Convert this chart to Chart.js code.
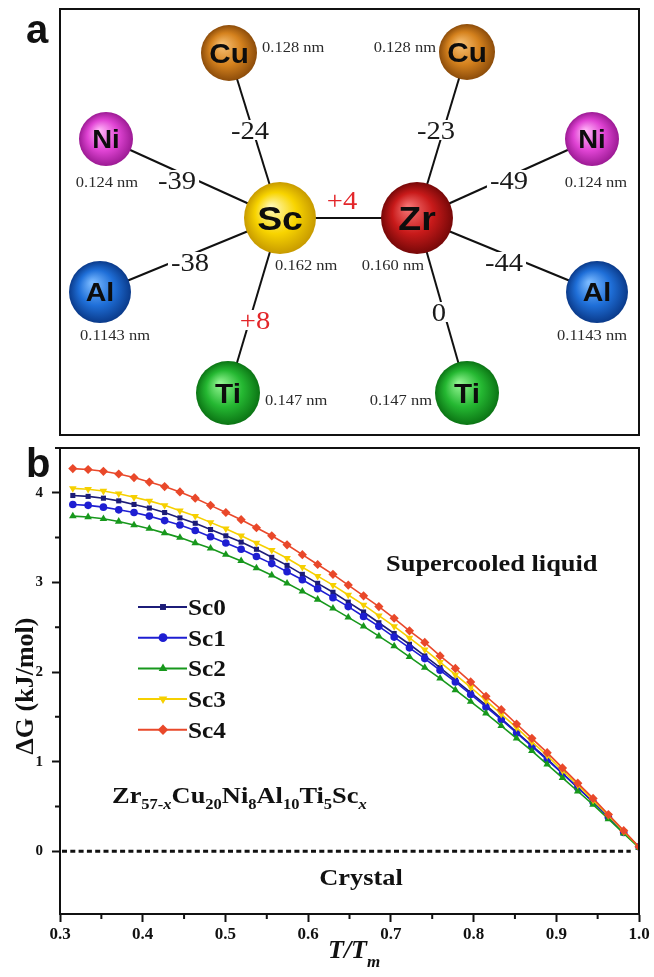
<!DOCTYPE html>
<html>
<head>
<meta charset="utf-8">
<title>Zr-Cu-Ni-Al-Ti-Sc</title>
<script src="https://cdn.jsdelivr.net/npm/chart.js@4.4.1/dist/chart.umd.min.js"></script>
<style>
html,body{margin:0;padding:0;background:#fff;}
body{width:654px;height:977px;position:relative;overflow:hidden;}
#boxA{position:absolute;left:0;top:0;width:654px;height:440px;}
#boxB{position:absolute;left:0;top:440px;width:654px;height:537px;}
</style>
</head>
<body>
<div id="boxA"><canvas id="atomChart"></canvas></div>
<div id="boxB"><canvas id="dgChart"></canvas></div>
<script>
// ---------- panel a : atoms (layout units inside the frame) ----------
const atomNames = ["Sc","Zr","Cu","Cu","Ni","Ni","Al","Al","Ti","Ti"];
const atomX = [220,357,169,407,46,532,40,537,168,407];
const atomY = [209,209,44,43,130,130,283,283,384,384];
const atomRadius = ["0.162 nm","0.160 nm","0.128 nm","0.128 nm","0.124 nm","0.124 nm","0.1143 nm","0.1143 nm","0.147 nm","0.147 nm"];
const bondFrom = [0,0,0,0,0,1,1,1,1];
const bondTo   = [1,2,4,6,8,3,5,7,9];
const bondEnergy = ["+4","-24","-39","-38","+8","-23","-49","-44","0"];

// ---------- panel b : driving force curves ----------
const tTm = [0.3155,0.334,0.3525,0.371,0.3895,0.408,0.4265,0.445,0.4635,0.482,
             0.5005,0.519,0.5375,0.556,0.5745,0.593,0.6115,0.63,0.6485,0.667,
             0.6855,0.704,0.7225,0.741,0.7595,0.778,0.7965,0.815,0.8335,0.852,
             0.8705,0.889,0.9075,0.926,0.9445,0.963,0.9815,1.0];
const dgSc0 = [3.97,3.96,3.94,3.91,3.87,3.83,3.78,3.72,3.66,3.59,3.52,3.45,3.37,3.28,3.19,3.09,2.99,2.89,2.78,2.67,
               2.55,2.43,2.31,2.18,2.05,1.91,1.77,1.63,1.48,1.33,1.18,1.03,0.87,0.71,0.55,0.38,0.21,0.05];
const dgSc1 = [3.87,3.86,3.84,3.81,3.78,3.74,3.69,3.64,3.58,3.51,3.44,3.37,3.29,3.21,3.12,3.03,2.93,2.83,2.73,2.62,
               2.51,2.39,2.27,2.15,2.02,1.89,1.75,1.61,1.47,1.32,1.17,1.02,0.87,0.71,0.55,0.38,0.21,0.05];
const dgSc2 = [3.74,3.73,3.71,3.68,3.64,3.60,3.55,3.50,3.44,3.38,3.31,3.24,3.16,3.08,2.99,2.90,2.81,2.71,2.61,2.51,
               2.40,2.29,2.17,2.05,1.93,1.80,1.67,1.54,1.40,1.26,1.12,0.97,0.82,0.67,0.52,0.36,0.20,0.04];
const dgSc3 = [4.05,4.04,4.02,3.99,3.95,3.91,3.86,3.80,3.74,3.67,3.60,3.52,3.44,3.36,3.27,3.17,3.07,2.97,2.86,2.75,
               2.63,2.51,2.38,2.25,2.11,1.97,1.83,1.68,1.53,1.38,1.22,1.07,0.90,0.74,0.57,0.40,0.22,0.05];
const dgSc4 = [4.27,4.26,4.24,4.21,4.17,4.12,4.07,4.01,3.94,3.86,3.78,3.70,3.61,3.52,3.42,3.31,3.20,3.09,2.97,2.85,
               2.73,2.60,2.46,2.33,2.18,2.04,1.89,1.73,1.58,1.42,1.26,1.10,0.93,0.76,0.59,0.41,0.23,0.05];
const seriesNames = ["Sc0","Sc1","Sc2","Sc3","Sc4"];
const xTicks = [0.3,0.4,0.5,0.6,0.7,0.8,0.9,1.0];
const yTicks = [0,1,2,3,4];

// ---------- styles ----------
const SERIF = "'Liberation Serif', 'Times New Roman', serif";
const SANS = "'Liberation Sans', Arial, sans-serif";
const STRETCH = 1.1;

const atomLook = {
  Sc:{r:36, c:["#fff7b0","#f8d400","#c79a00"], size:34},
  Zr:{r:36, c:["#f47070","#c81a1a","#760808"], size:34},
  Cu:{r:28, c:["#f5bd70","#d5821e","#8c4c0a"], size:27},
  Ni:{r:27, c:["#ffb0f6","#e044d4","#9c1a94"], size:25},
  Al:{r:31, c:["#78b8ff","#1f6fd8","#0a3a8a"], size:26},
  Ti:{r:32, c:["#8ef28e","#25b832","#0b7414"], size:27}
};
const bondLabelAt = [[282,191],[190,121],[117,171],[130,253],[195,311],[376,121],[449,171],[444,253],[379,303]];
const sizeLabelAt = [[215,256,"left"],[364,256,"right"],[202,38,"left"],[376,38,"right"],[47,173,"center"],
                     [536,173,"center"],[55,326,"center"],[532,326,"center"],[205,391,"left"],[372,391,"right"]];

const seriesStyle = [
  {color:"#1c1c78", pointStyle:"rect", radius:3.6, rot:0},
  {color:"#1e1ed2", pointStyle:"circle", radius:3.8, rot:0},
  {color:"#17981c", pointStyle:"triangle", radius:4.4, rot:0},
  {color:"#f6d000", pointStyle:"triangle", radius:4.4, rot:180},
  {color:"#e9482a", pointStyle:"rectRot", radius:4.6, rot:0}
];

// text with a little horizontal stretch, like the source figure
function say(ctx, str, x, y, font, color, align, sx){
  sx = sx || STRETCH;
  ctx.save();
  ctx.font = font;
  ctx.fillStyle = color || "#111";
  ctx.textBaseline = "alphabetic";
  const w = ctx.measureText(str).width * sx;
  let x0 = x;
  if (align === "center") x0 = x - w/2;
  else if (align === "right") x0 = x - w;
  ctx.translate(x0, y);
  ctx.scale(sx, 1);
  ctx.fillText(str, 0, 0);
  ctx.restore();
  return w;
}

// ================= panel a =================
const atomPlugin = {
  id:"atomPlugin",
  afterDraw(ch){
    const ctx = ch.ctx, a = ch.chartArea, sx = ch.scales.x, sy = ch.scales.y;
    // frame
    ctx.save();
    ctx.strokeStyle = "#111"; ctx.lineWidth = 2;
    ctx.strokeRect(a.left, a.top, a.right - a.left, a.bottom - a.top);
    ctx.restore();
    // bond energies
    bondEnergy.forEach((s, i) => {
      const px = sx.getPixelForValue(bondLabelAt[i][0]);
      const py = sy.getPixelForValue(bondLabelAt[i][1]);
      const red = s.charAt(0) === "+";
      ctx.save();
      ctx.font = "26px " + SERIF;
      const w = ctx.measureText(s).width * STRETCH;
      if (i !== 0) {
        ctx.fillStyle = "#fff";
        ctx.fillRect(px - w/2 - 3, py - 10, w + 6, 20);
      }
      ctx.restore();
      say(ctx, s, px, py + 9, "26px " + SERIF, red ? "#e3262a" : "#1a1a1a", "center");
    });
    // atomic radii
    atomRadius.forEach((s, i) => {
      const px = sx.getPixelForValue(sizeLabelAt[i][0]);
      const py = sy.getPixelForValue(sizeLabelAt[i][1]);
      say(ctx, s, px, py + 5, "15px " + SERIF, "#2a2a2a", sizeLabelAt[i][2]);
    });
    // element symbols
    atomNames.forEach((s, i) => {
      const look = atomLook[s];
      const px = sx.getPixelForValue(atomX[i]);
      const py = sy.getPixelForValue(atomY[i]);
      say(ctx, s, px, py + look.size*0.36, "bold " + look.size + "px " + SANS, "#0d0d0d", "center");
    });
    // panel letter
    say(ctx, "a", 26, 43, "bold 40px " + SANS, "#111", "left", 1);
  }
};

function atomFill(c){
  const name = atomNames[c.dataIndex];
  const look = atomLook[name];
  const ch = c.chart;
  if (!ch.chartArea || !c.raw) return look.c[1];
  const x = ch.scales.x.getPixelForValue(c.raw.x);
  const y = ch.scales.y.getPixelForValue(c.raw.y);
  const r = look.r;
  const g = ch.ctx.createRadialGradient(x - r*0.25, y - r*0.3, r*0.05, x, y, r);
  g.addColorStop(0, look.c[0]);
  g.addColorStop(0.55, look.c[1]);
  g.addColorStop(1, look.c[2]);
  return g;
}

const atomDatasets = bondFrom.map((f, i) => ({
  type:"line",
  data:[{x:atomX[f], y:atomY[f]}, {x:atomX[bondTo[i]], y:atomY[bondTo[i]]}],
  borderColor:"#111",
  borderWidth:2,
  pointRadius:0,
  fill:false,
  order:1
}));
atomDatasets.push({
  type:"bubble",
  data:atomNames.map((n, i) => ({x:atomX[i], y:atomY[i]})),
  radius:c => atomLook[atomNames[c.dataIndex]].r,
  backgroundColor:atomFill,
  borderWidth:0,
  order:0
});

new Chart(document.getElementById("atomChart"), {
  type:"bubble",
  data:{datasets:atomDatasets},
  options:{
    responsive:true,
    maintainAspectRatio:false,
    animation:false,
    events:[],
    layout:{autoPadding:false, padding:{left:60, top:9, right:15, bottom:5}},
    plugins:{legend:{display:false}, tooltip:{enabled:false}},
    scales:{
      x:{type:"linear", min:0, max:579, display:false},
      y:{type:"linear", min:0, max:426, reverse:true, display:false}
    }
  },
  plugins:[atomPlugin]
});

// ================= panel b =================
const dgData = [dgSc0, dgSc1, dgSc2, dgSc3, dgSc4];

const dgPlugin = {
  id:"dgPlugin",
  beforeDatasetsDraw(ch){
    const ctx = ch.ctx, a = ch.chartArea, sx = ch.scales.x, sy = ch.scales.y;
    const y0 = sy.getPixelForValue(0);
    ctx.save();
    ctx.strokeStyle = "#111"; ctx.lineWidth = 3; ctx.setLineDash([5, 3.3]);
    ctx.beginPath(); ctx.moveTo(a.left + 2, y0); ctx.lineTo(sx.getPixelForValue(0.99), y0); ctx.stroke();
    ctx.restore();
  },
  afterDraw(ch){
    const ctx = ch.ctx, a = ch.chartArea, sx = ch.scales.x, sy = ch.scales.y;
    ctx.save();
    ctx.strokeStyle = "#111"; ctx.lineWidth = 2;
    ctx.strokeRect(a.left, a.top, a.right - a.left, a.bottom - a.top);
    // minor ticks
    ctx.beginPath();
    for (let i = 0; i < xTicks.length - 1; i++) {
      const px = sx.getPixelForValue((xTicks[i] + xTicks[i+1]) / 2);
      ctx.moveTo(px, a.bottom); ctx.lineTo(px, a.bottom + 5);
    }
    for (let i = 0; i < yTicks.length; i++) {
      const py = sy.getPixelForValue(yTicks[i] + 0.5);
      if (py < a.top) continue;
      ctx.moveTo(a.left, py); ctx.lineTo(a.left - 5, py);
    }
    ctx.stroke();
    ctx.restore();

    // legend
    ch.data.datasets.forEach((ds, i) => {
      const y = 167 + 30.7 * i;
      const st = seriesStyle[i];
      ctx.save();
      ctx.strokeStyle = st.color; ctx.fillStyle = st.color; ctx.lineWidth = 2;
      ctx.beginPath(); ctx.moveTo(138, y); ctx.lineTo(187, y); ctx.stroke();
      Chart.helpers.drawPoint(ctx, {pointStyle:st.pointStyle, rotation:st.rot, radius:st.radius + 0.6, borderWidth:0}, 163, y);
      ctx.restore();
      say(ctx, seriesNames[i], 188, y + 8, "bold 23px " + SERIF, "#111", "left");
    });

    // annotations
    say(ctx, "Supercooled liquid", sx.getPixelForValue(0.822), sy.getPixelForValue(3.22) + 8, "bold 24px " + SERIF, "#111", "center");
    say(ctx, "Crystal", sx.getPixelForValue(0.664), sy.getPixelForValue(-0.29) + 8, "bold 24px " + SERIF, "#111", "center");

    // composition formula
    const parts = [["Zr",0],["57-",1],["x",2],["Cu",0],["20",1],["Ni",0],["8",1],["Al",0],["10",1],["Ti",0],["5",1],["Sc",0],["x",2]];
    let fx = sx.getPixelForValue(0.3629);
    const fy = sy.getPixelForValue(0.536);
    parts.forEach(p => {
      if (p[1] === 0) fx += say(ctx, p[0], fx, fy, "bold 24px " + SERIF, "#111", "left");
      else if (p[1] === 1) fx += say(ctx, p[0], fx, fy + 6, "bold 15px " + SERIF, "#111", "left");
      else fx += say(ctx, p[0], fx, fy + 6, "italic bold 15px " + SERIF, "#111", "left");
    });

    // axis titles
    let tx = 328;
    tx += say(ctx, "T/T", tx, 518, "italic bold 26px " + SERIF, "#111", "left", 1);
    say(ctx, "m", tx, 527, "italic bold 17px " + SERIF, "#111", "left", 1);

    ctx.save();
    ctx.translate(24 + 9, 246);
    ctx.rotate(-Math.PI / 2);
    ctx.font = "bold 26px " + SERIF;
    ctx.fillStyle = "#111";
    ctx.textAlign = "center";
    ctx.textBaseline = "alphabetic";
    ctx.fillText("\u0394G (kJ/mol)", 0, 0);
    ctx.restore();

    say(ctx, "b", 26, 37, "bold 40px " + SANS, "#111", "left", 1);
  }
};

const dgDatasets = dgData.map((vals, i) => ({
  label:seriesNames[i],
  data:vals.map((v, k) => ({x:tTm[k], y:v})),
  borderColor:seriesStyle[i].color,
  backgroundColor:seriesStyle[i].color,
  borderWidth:1.6,
  pointStyle:seriesStyle[i].pointStyle,
  pointRotation:seriesStyle[i].rot,
  pointRadius:seriesStyle[i].radius,
  pointBorderWidth:0,
  tension:0,
  fill:false,
  order:5 - i
}));

new Chart(document.getElementById("dgChart"), {
  type:"line",
  data:{datasets:dgDatasets},
  options:{
    responsive:true,
    maintainAspectRatio:false,
    animation:false,
    events:[],
    layout:{autoPadding:false, padding:{left:0, right:15, top:8, bottom:0}},
    plugins:{legend:{display:false}, tooltip:{enabled:false}},
    scales:{
      x:{
        type:"linear", min:0.3, max:1.0,
        afterBuildTicks:s => { s.ticks = xTicks.map(v => ({value:v})); },
        afterFit:s => { s.height = 63; },
        ticks:{font:{family:SERIF, weight:"bold", size:17}, color:"#111", padding:2,
               maxRotation:0, autoSkip:false, callback:v => Number(v).toFixed(1)},
        grid:{drawOnChartArea:false, drawTicks:true, tickLength:8, tickWidth:2, tickColor:"#111"},
        border:{color:"#111", width:2}
      },
      y:{
        type:"linear", min:-0.7, max:4.5,
        afterBuildTicks:s => { s.ticks = yTicks.map(v => ({value:v})); },
        afterFit:s => { s.width = 60; s.paddingTop = 0; s.paddingBottom = 0; },
        ticks:{font:{family:SERIF, weight:"bold", size:15}, color:"#111", padding:9,
               callback:v => String(v)},
        grid:{drawOnChartArea:false, drawTicks:true, tickLength:8, tickWidth:2, tickColor:"#111"},
        border:{color:"#111", width:2}
      }
    }
  },
  plugins:[dgPlugin]
});
</script>
</body>
</html>
